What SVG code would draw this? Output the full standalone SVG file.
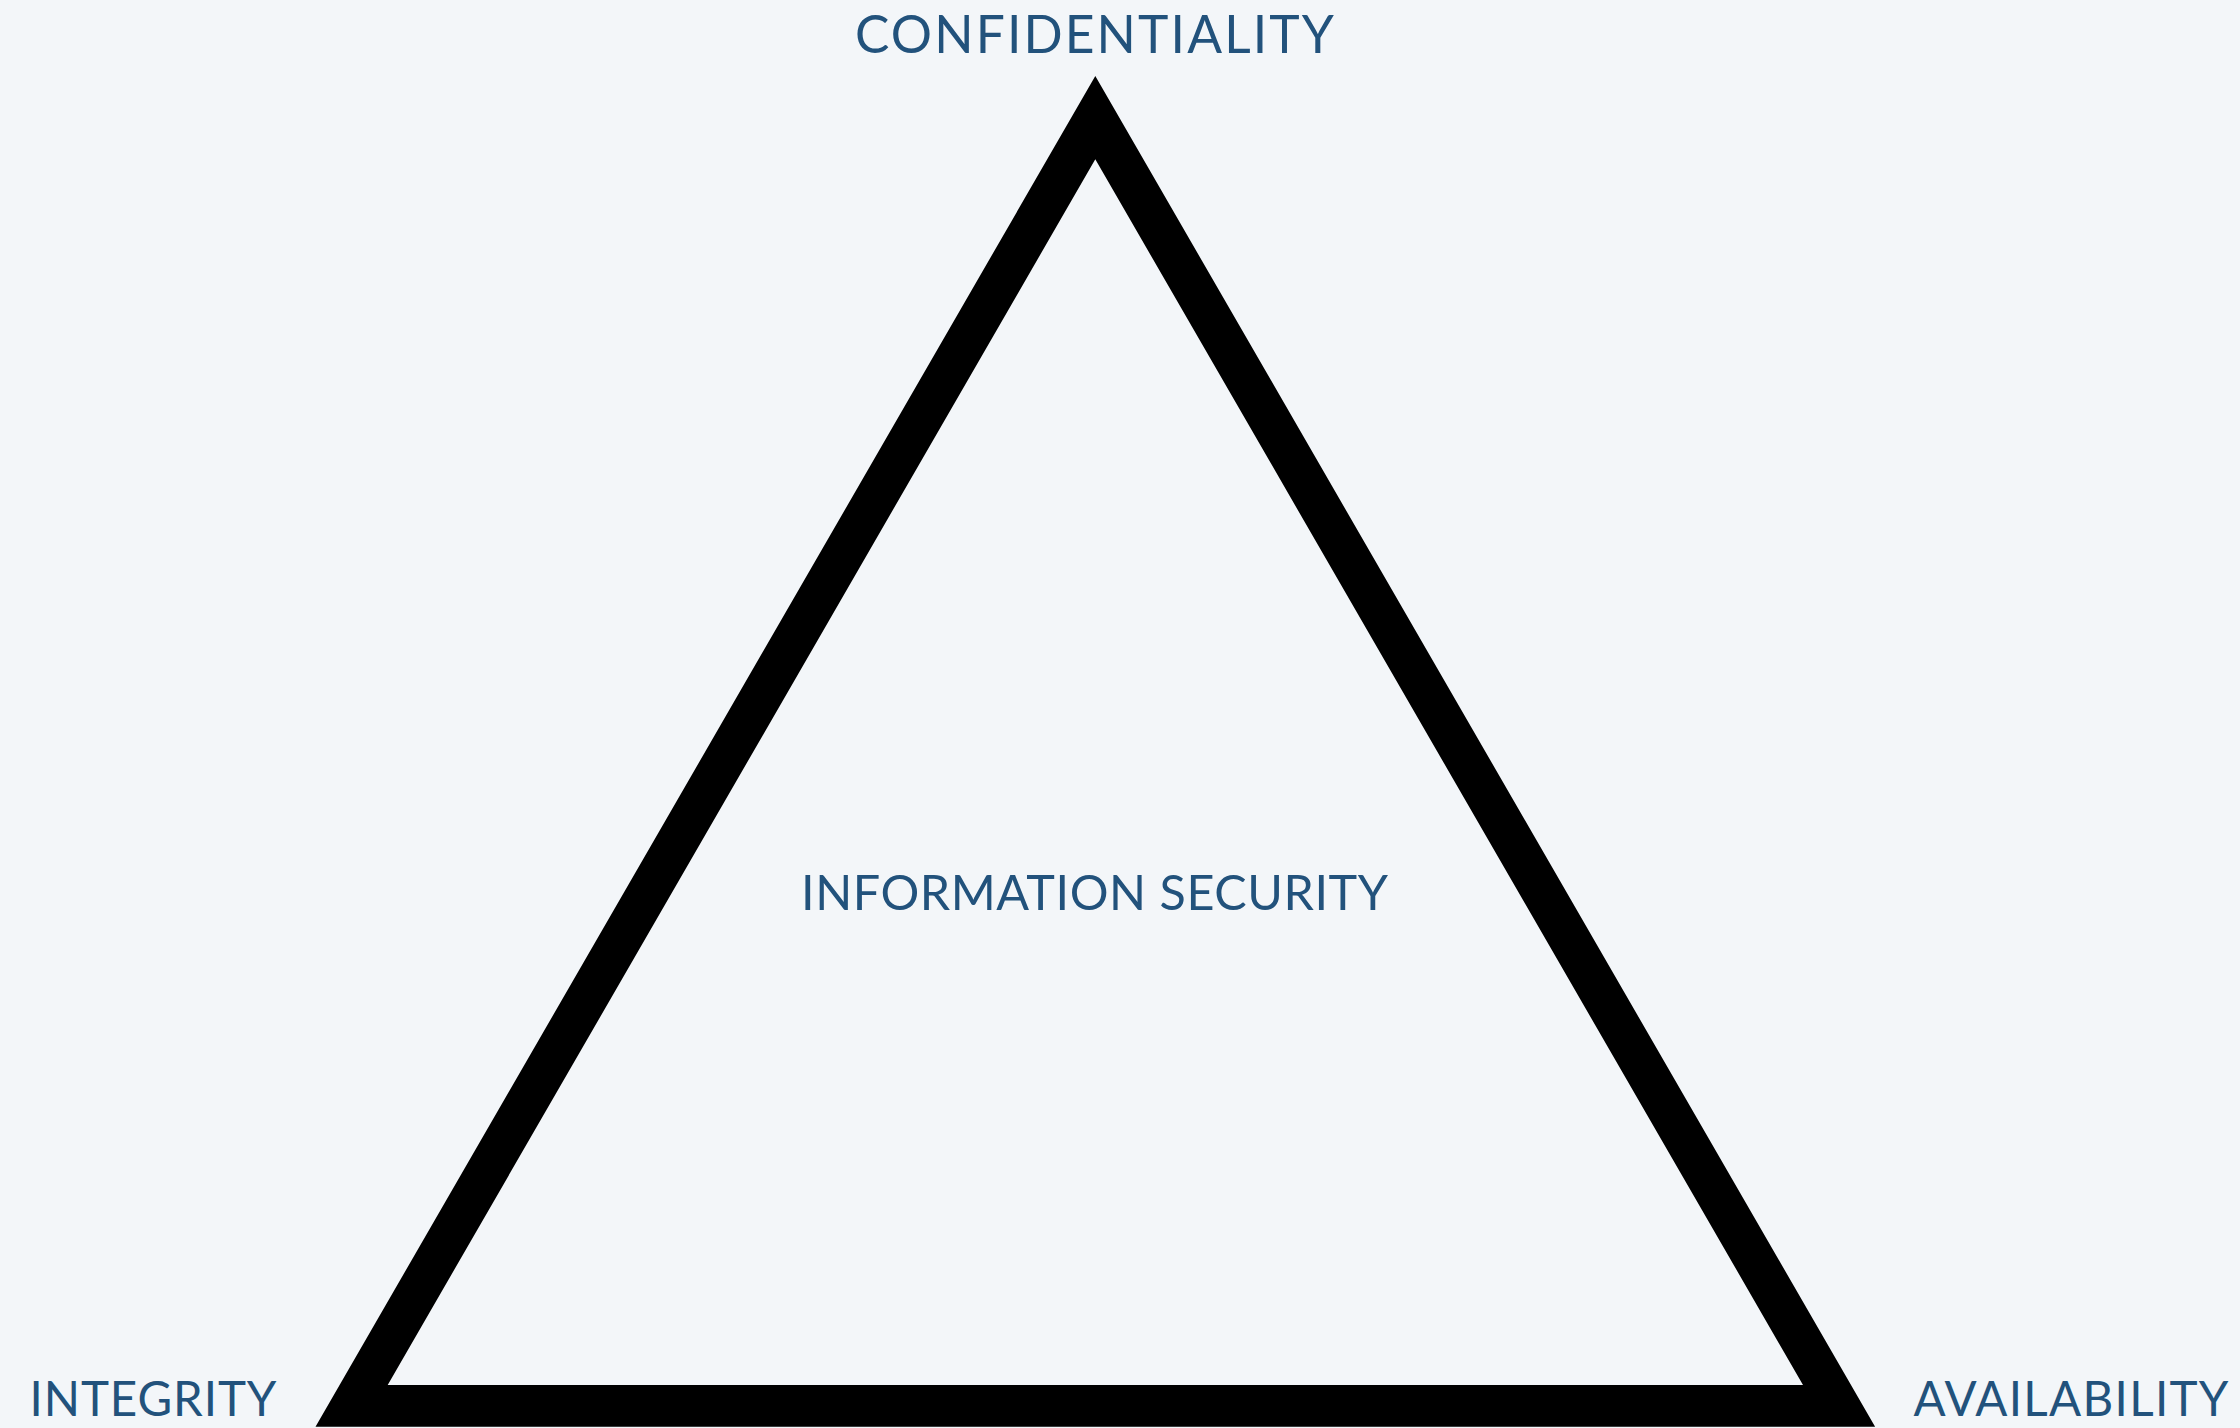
<svg xmlns="http://www.w3.org/2000/svg" width="2240" height="1428" viewBox="0 0 2240 1428">
  <style>
    .lbl { font-family: Lato, "Open Sans", "Liberation Sans", sans-serif; fill: #22527c; font-weight: 400; }
    .tri { fill: #000000; fill-rule: evenodd; }
  </style>
  <rect x="0" y="0" width="2240" height="1428" fill="#f3f6f9"/>
  <g id="triangle">
    <path class="tri" d="M1095.3,76 L1875.1,1426.7 L315.5,1426.7 Z M1095.3,159.3 L387.7,1385 L1803,1385 Z"/>
  </g>
  <g id="connectors"></g>
  <g id="node-confidentiality">
    <text class="lbl" x="855" y="53.3" font-size="51.5" textLength="479" lengthAdjust="spacing">CONFIDENTIALITY</text>
  </g>
  <g id="node-information-security">
    <text class="lbl" x="801" y="910" font-size="48.5" textLength="587" lengthAdjust="spacing">INFORMATION SECURITY</text>
  </g>
  <g id="node-integrity">
    <text class="lbl" x="29.5" y="1415.7" font-size="47.5" textLength="247" lengthAdjust="spacing">INTEGRITY</text>
  </g>
  <g id="node-availability">
    <text class="lbl" x="1913.5" y="1415.7" font-size="47.5" textLength="315" lengthAdjust="spacing">AVAILABILITY</text>
  </g>
</svg>
